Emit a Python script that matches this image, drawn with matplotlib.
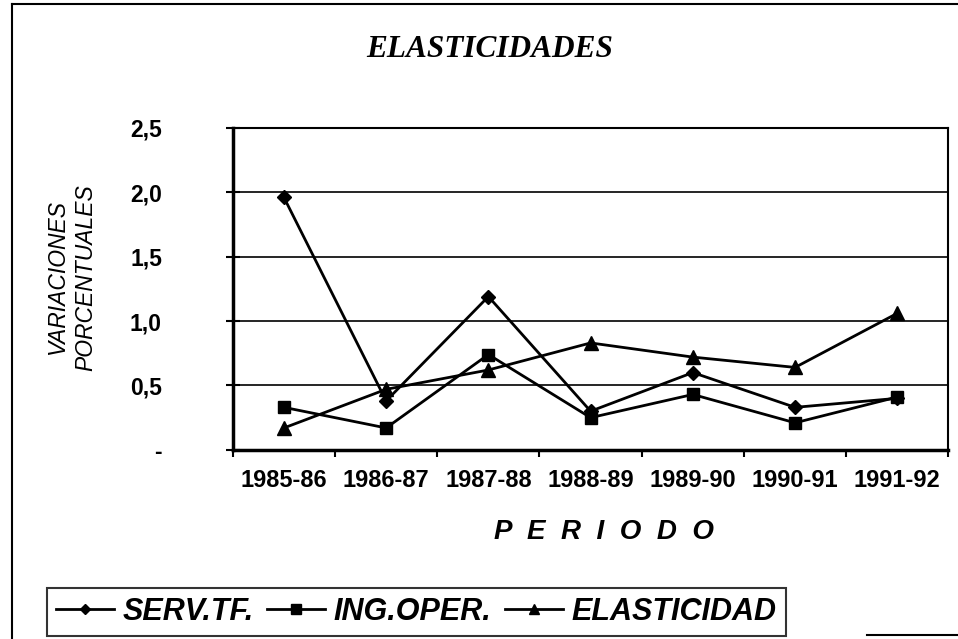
import matplotlib
matplotlib.use("Agg")
from matplotlib import pyplot as plt
from matplotlib.lines import Line2D

periodos = ['1985-86', '1986-87', '1987-88', '1988-89', '1989-90', '1990-91', '1991-92']
serv_tf = [1.96, 0.38, 1.19, 0.30, 0.60, 0.33, 0.40]
ing_oper = [0.33, 0.17, 0.74, 0.25, 0.43, 0.21, 0.41]
elasticidad = [0.17, 0.47, 0.62, 0.83, 0.72, 0.64, 1.06]
y_ticks = [0, 0.5, 1.0, 1.5, 2.0, 2.5]
y_labels = ['-', '0,5', '1,0', '1,5', '2,0', '2,5']

fig = plt.figure(figsize=(9.58, 6.39), dpi=100)
ax = fig.add_axes([0.243, 0.296, 0.747, 0.504])

x = list(range(len(periodos)))
ax.plot(x, serv_tf, color='black', lw=2, marker='D', ms=7, label='SERV.TF.')
ax.plot(x, ing_oper, color='black', lw=2, marker='s', ms=9, label='ING.OPER.')
ax.plot(x, elasticidad, color='black', lw=2, marker='^', ms=10, label='ELASTICIDAD')

ax.set_xlim(-0.5, len(periodos) - 0.5)
ax.set_ylim(0, 2.5)
ax.set_yticks(y_ticks)
ax.set_yticklabels(y_labels, fontweight='bold', fontsize=16.5, family='Liberation Sans')
ax.set_xticks(x)
ax.set_xticklabels(periodos, fontweight='bold', fontsize=17, family='Liberation Sans')
ax.set_xticks([i - 0.5 for i in range(len(periodos) + 1)], minor=True)
ax.tick_params(axis='x', which='major', length=0, pad=14)
ax.tick_params(axis='x', which='minor', length=5, width=1.5, direction='out')
ax.tick_params(axis='y', length=10, width=1.5, direction='inout', pad=46)

ax.grid(axis='y', color='black', lw=1.2)
for s in ax.spines.values():
    s.set_linewidth(1.5)
ax.spines['left'].set_linewidth(2.5)
ax.spines['bottom'].set_linewidth(2.5)

fig.text(0.511, 0.922, 'ELASTICIDADES', ha='center', va='center',
         fontsize=22.5, style='italic', fontweight='bold', family='Liberation Serif')
fig.text(0.63, 0.167, 'P  E  R  I  O  D  O', ha='center', va='center',
         fontsize=20, style='italic', fontweight='bold', family='Liberation Sans')
fig.text(0.075, 0.566, 'VARIACIONES\nPORCENTUALES', ha='center', va='center',
         rotation=90, fontsize=16.5, style='italic', family='Liberation Sans',
         linespacing=1.3)

leg = fig.legend(loc='center left', bbox_to_anchor=(0.049, 0.042), ncol=3,
                 frameon=True, fancybox=False, edgecolor='black',
                 borderaxespad=0,
                 prop={'family': 'Liberation Sans', 'style': 'italic',
                       'weight': 'bold', 'size': 22},
                 handlelength=1.9, handletextpad=0.27, columnspacing=0.45,
                 borderpad=0.3, markerscale=0.75)
leg.get_frame().set_linewidth(1.5)

# scanned page frame: left and top edges, a piece of the bottom edge
frame_kw = dict(transform=fig.transFigure, color='black', lw=1.5)
fig.add_artist(Line2D([0.013, 0.013], [0.0, 0.993], **frame_kw))
fig.add_artist(Line2D([0.013, 1.0], [0.993, 0.993], **frame_kw))
fig.add_artist(Line2D([0.905, 1.0], [0.006, 0.006], **frame_kw))

fig.savefig('out.png', dpi=100)
